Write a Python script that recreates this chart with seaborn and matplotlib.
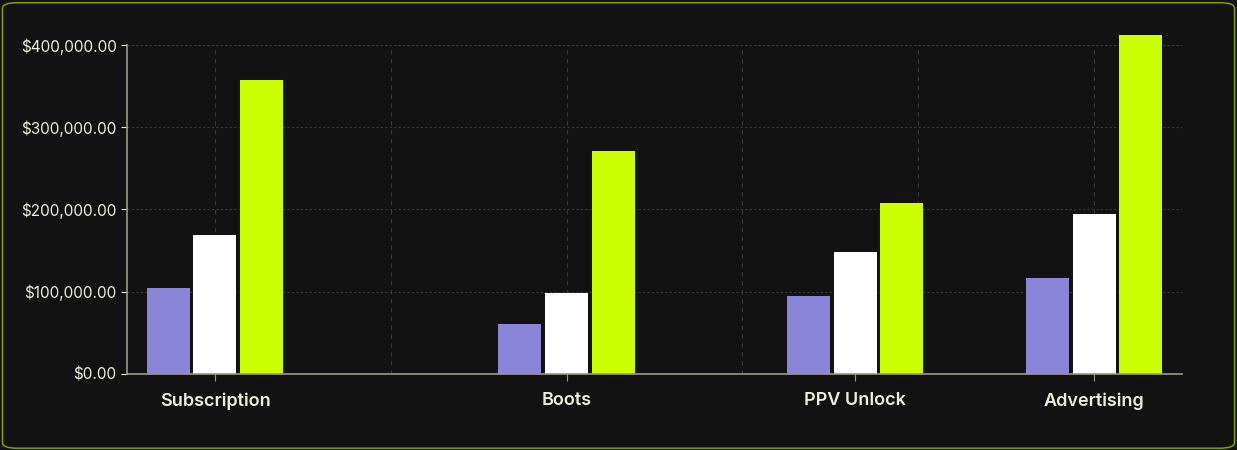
import pandas as pd
import matplotlib.pyplot as plt
import seaborn as sns
from matplotlib.ticker import FuncFormatter, MultipleLocator
from matplotlib.patches import FancyBboxPatch

categories = ["Subscription", "Boots", "PPV Unlock", "Advertising"]
positions = [0.0, 1.2, 2.185, 3.0]
series = ["A", "B", "C"]
values_a = [105000, 61000, 95000, 117000]
values_b = [169000, 98500, 148000, 194500]
values_c = [357000, 271000, 208000, 412000]
colors = ["#8b85d9", "#ffffff", "#ccff00"]

df = pd.DataFrame({
    "pos": positions * 3,
    "series": [s for s in series for _ in categories],
    "value": values_a + values_b + values_c,
})

sns.set_style("dark")
plt.rcParams["font.family"] = ["Inter", "DejaVu Sans"]

fig = plt.figure(figsize=(12.37, 4.5), dpi=100)
fig.patch.set_facecolor("#121212")
fig.patches.append(FancyBboxPatch((0.002, 0.004), 0.996, 0.99, boxstyle="round,pad=0,rounding_size=0.012",
                                  transform=fig.transFigure, facecolor="none", edgecolor="#8aa800", lw=1))
ax = fig.add_axes([0.1027, 0.169, 0.8528, 0.731])
ax.set_facecolor("#121212")

sns.barplot(data=df, x="pos", y="value", hue="series", palette=colors, native_scale=True,
            width=0.587, gap=0.08, saturation=1, linewidth=0, legend=False, ax=ax)
for p in ax.patches:
    p.set_clip_on(False)

ax.set_xlim(-0.3, 3.3)
ax.set_ylim(0, 400000)
ax.set_xticks(positions)
ax.set_xticklabels(categories)
ax.yaxis.set_major_locator(MultipleLocator(100000))
ax.yaxis.set_major_formatter(FuncFormatter(lambda v, p: f"${v:,.2f}"))
ax.grid(False)
ax.grid(axis="y", which="major", color="#3a3a3a", linestyle=(0, (2, 2)), lw=0.8)
for gx in [0.0, 0.6, 1.2, 1.8, 2.4, 3.0, 3.3]:
    ax.axvline(gx, color="#3a3a3a", linestyle=(0, (4, 4)), lw=0.8, zorder=0)
ax.axhline(400000, color="#3a3a3a", linestyle=(0, (2, 2)), lw=0.8, zorder=0)
ax.set_axisbelow(True)

ax.set_xlabel("")
ax.set_ylabel("")
for s in ["top", "right"]:
    ax.spines[s].set_visible(False)
for s in ["left", "bottom"]:
    ax.spines[s].set_color("#9a9a8a")
    ax.spines[s].set_linewidth(1.2)
ax.tick_params(axis="y", colors="#eeeede", labelsize=11, length=4, left=True)
ax.tick_params(axis="x", colors="#9a9a8a", labelcolor="#eeeede", labelsize=13, length=5, bottom=True, pad=8)
for t in ax.get_xticklabels():
    t.set_fontweight("semibold")

fig.savefig("out.png", facecolor=fig.get_facecolor())
